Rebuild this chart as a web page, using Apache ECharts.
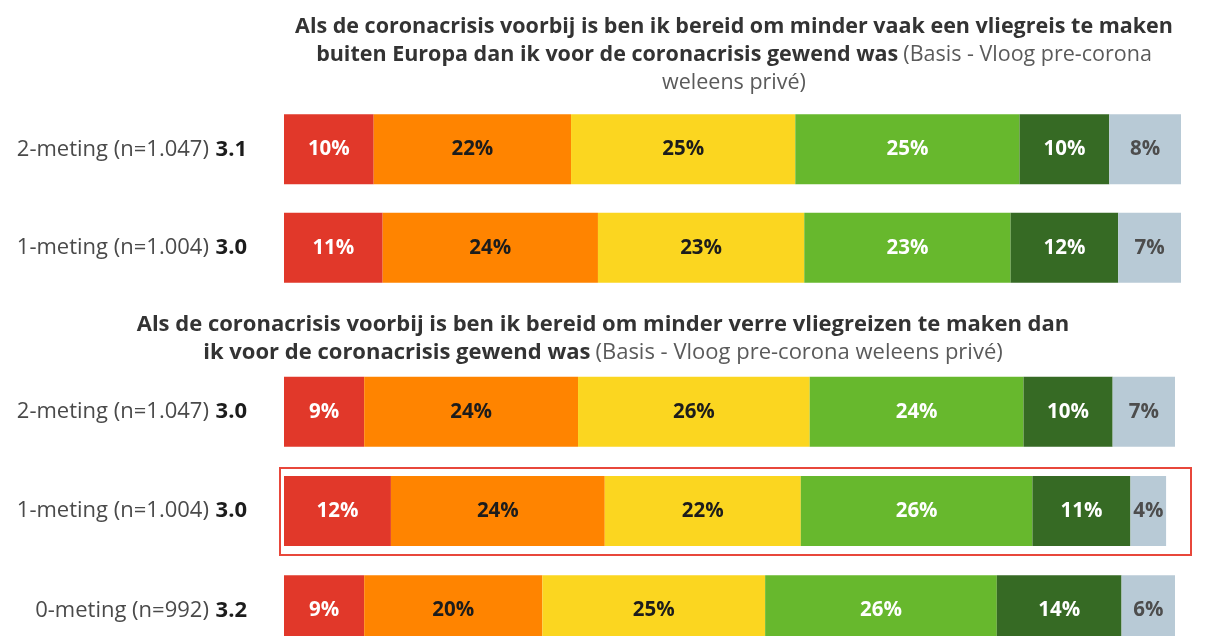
<!DOCTYPE html>
<html>
<head>
<meta charset="utf-8">
<script src="https://cdn.jsdelivr.net/npm/echarts@6/dist/echarts.min.js"></script>
<style>
  html, body { margin: 0; padding: 0; background: #fff; }
  #chart { width: 1210px; height: 636px; }
</style>
</head>
<body>
<div id="chart"></div>
<script>
// Answer categories, from "helemaal oneens" to "weet niet"
const answerNames = ['Helemaal oneens', 'Oneens', 'Neutraal', 'Eens', 'Helemaal eens', 'Weet niet'];
const answerColors = ['#E1382A', '#FF8400', '#FBD620', '#67B82D', '#366A24', '#B8CAD6'];
const labelColors = ['#ffffff', '#1c1c1c', '#1c1c1c', '#ffffff', '#ffffff', '#4d4d4d'];

// Statement 1: vliegreis buiten Europa
const topRows = ['2-meting (n=1.047)', '1-meting (n=1.004)'];
const topScores = ['3.1', '3.0'];
const topRed = [10, 11];
const topOrange = [22, 24];
const topYellow = [25, 23];
const topGreen = [25, 23];
const topDarkGreen = [10, 12];
const topGrey = [8, 7];

// Statement 2: verre vliegreizen
const bottomRows = ['2-meting (n=1.047)', '1-meting (n=1.004)', '0-meting (n=992)'];
const bottomScores = ['3.0', '3.0', '3.2'];
const bottomRed = [9, 12, 9];
const bottomOrange = [24, 24, 20];
const bottomYellow = [26, 22, 25];
const bottomGreen = [24, 26, 26];
const bottomDarkGreen = [10, 11, 14];
const bottomGrey = [7, 4, 6];

// Highlighted row in the second block
const highlightRow = '1-meting (n=1.004)';

const FONT = '"Open Sans", "Noto Sans", sans-serif';

const topSets = [topRed, topOrange, topYellow, topGreen, topDarkGreen, topGrey];
const bottomSets = [bottomRed, bottomOrange, bottomYellow, bottomGreen, bottomDarkGreen, bottomGrey];

function makeSeries(sets, idx, stackName) {
  return sets.map((vals, i) => ({
    type: 'bar',
    name: answerNames[i],
    stack: stackName,
    xAxisIndex: idx,
    yAxisIndex: idx,
    barWidth: 70,
    data: vals,
    itemStyle: { color: answerColors[i] },
    label: {
      show: true,
      position: 'inside',
      formatter: '{c}%',
      color: labelColors[i],
      fontFamily: FONT,
      fontWeight: 'bold',
      fontSize: 20.5
    },
    emphasis: { disabled: true },
    animation: false
  }));
}

function yAxisFor(rows, scores, idx) {
  return {
    type: 'category',
    gridIndex: idx,
    inverse: true,
    data: rows,
    axisLine: { show: false },
    axisTick: { show: false },
    axisLabel: {
      margin: 37,
      formatter: (v, i) => '{a|' + v + '}  {b|' + scores[i] + '}',
      rich: {
        a: { fontFamily: FONT, fontSize: 22, color: '#4a4a4a' },
        b: { fontFamily: FONT, fontSize: 22, fontWeight: 'bold', color: '#1c1c1c' }
      }
    }
  };
}

function xAxisFor(idx) {
  return {
    type: 'value', gridIndex: idx, min: 0, max: 100,
    show: false, splitLine: { show: false }
  };
}

function titleRich(size) {
  return {
    t: { fontFamily: FONT, fontSize: size, fontWeight: 'bold', color: '#333333', lineHeight: 28 },
    n: { fontFamily: FONT, fontSize: size, fontWeight: 'normal', color: '#5a5a5a', lineHeight: 28 }
  };
}

const chart = echarts.init(document.getElementById('chart'), null, { renderer: 'canvas' });

chart.setOption({
  backgroundColor: '#ffffff',
  animation: false,
  title: [
    {
      left: 729, top: 8, textAlign: 'center',
      text: '{t|Als de coronacrisis voorbij is ben ik bereid om minder vaak een vliegreis te maken}\n' +
            '{t|buiten Europa dan ik voor de coronacrisis gewend was} {n|(Basis - Vloog pre-corona}\n' +
            '{n|weleens privé)}',
      textStyle: { rich: titleRich(21.5) }
    },
    {
      left: 598, top: 306, textAlign: 'center',
      text: '{t|Als de coronacrisis voorbij is ben ik bereid om minder verre vliegreizen te maken dan}\n' +
            '{t|ik voor de coronacrisis gewend was} {n|(Basis - Vloog pre-corona weleens privé)}',
      textStyle: { rich: titleRich(22) }
    }
  ],
  grid: [
    { left: 284, right: 29, top: 100, height: 197, outerBoundsMode: 'none' },
    { left: 284, right: 35, top: 362, height: 298, outerBoundsMode: 'none' }
  ],
  xAxis: [xAxisFor(0), xAxisFor(1)],
  yAxis: [yAxisFor(topRows, topScores, 0), yAxisFor(bottomRows, bottomScores, 1)],
  series: [
    ...makeSeries(topSets, 0, 'top'),
    ...makeSeries(bottomSets, 1, 'bottom')
  ]
});

// Red frame around the highlighted row, placed from the axis scales
const pLeft = chart.convertToPixel({ gridIndex: 1 }, [0, highlightRow]);
const pRight = chart.convertToPixel({ gridIndex: 1 }, [100, highlightRow]);
chart.setOption({
  graphic: [{
    type: 'rect',
    shape: {
      x: pLeft[0] - 4,
      y: pLeft[1] - 43,
      width: pRight[0] - pLeft[0] + 20,
      height: 87
    },
    style: { fill: 'none', stroke: '#E8473B', lineWidth: 2 },
    silent: true
  }]
});
</script>
</body>
</html>
